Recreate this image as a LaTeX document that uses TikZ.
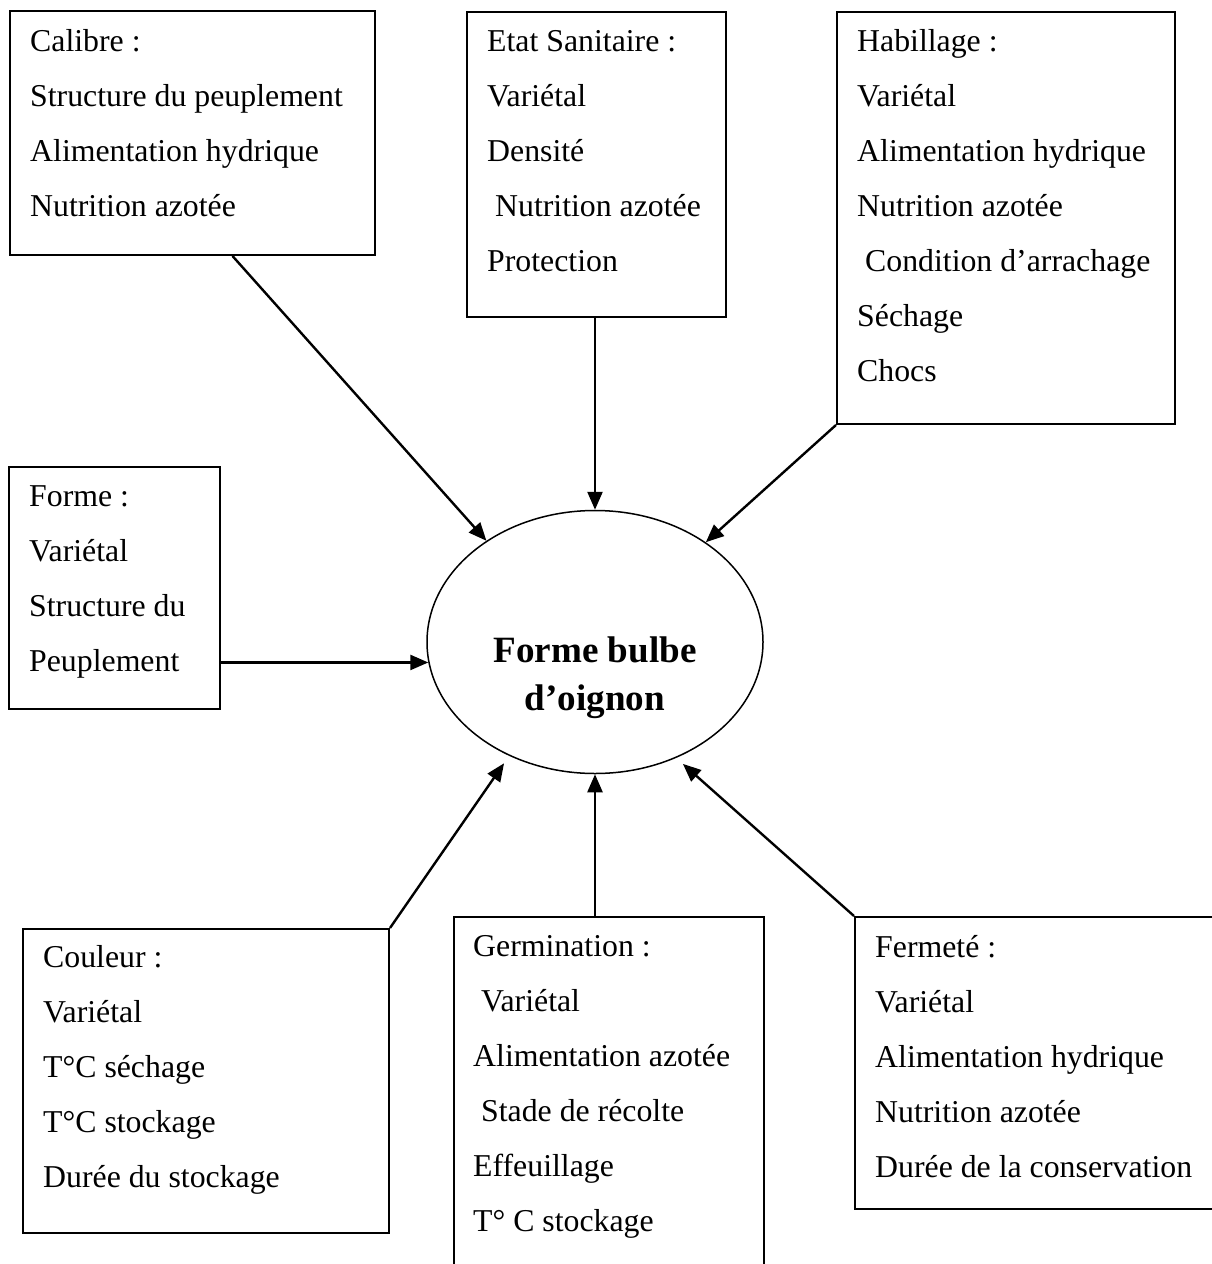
\documentclass[tikz,border=0pt]{standalone}
\usepackage{fontspec}
\setmainfont{Liberation Serif}
\usetikzlibrary{shapes.geometric,arrows.meta,calc}
\begin{document}
\begin{tikzpicture}[x=1pt,y=-1pt,
  box/.style={draw, line width=2pt, anchor=north west, inner sep=0pt},
  txt/.style={anchor=base west, inner sep=0pt, font=\fontsize{31.8}{38}\selectfont},
  ttl/.style={anchor=base, inner sep=0pt, font=\fontsize{37.1}{44}\selectfont\bfseries},
  arr/.style={line width=2.4pt, -{Triangle[length=18pt,width=15pt]}}]
\useasboundingbox (0,0) rectangle (1211,1264);

% boxes
\node[box, minimum width=365pt, minimum height=244pt] (calibre) at (9,10) {};
\node[box, minimum width=259pt, minimum height=305pt] (etat) at (466,11) {};
\node[box, minimum width=338pt, minimum height=412pt] (habil) at (836,11) {};
\node[box, minimum width=211pt, minimum height=242pt] (forme) at (8,466) {};
\node[box, minimum width=366pt, minimum height=304pt] (couleur) at (22,928) {};
\node[box, minimum width=310pt, minimum height=360pt] (germ) at (453,916) {};
\node[box, minimum width=362pt, minimum height=292pt] (ferm) at (854,916) {};

% central ellipse
\node[draw, ellipse, line width=1.5pt, minimum width=336pt, minimum height=263pt, inner sep=0pt] (bulb) at (595,642) {};
\node[ttl] (t1) at (595,662) {Forme bulbe};
\node[ttl] (t2) at (595,710) {d’oignon};

% Calibre
\node[txt] (cal1) at (30,51) {Calibre :};
\node[txt] (cal2) at (30,106) {Structure du peuplement};
\node[txt] (cal3) at (30,161) {Alimentation hydrique};
\node[txt] (cal4) at (30,216) {Nutrition azotée};

% Etat sanitaire
\node[txt] (eta1) at (487,51) {Etat Sanitaire :};
\node[txt] (eta2) at (487,106) {Variétal};
\node[txt] (eta3) at (487,161) {Densité};
\node[txt] (eta4) at (487,216) {\hspace{0.25em}Nutrition azotée};
\node[txt] (eta5) at (487,271) {Protection};

% Habillage
\node[txt] (hab1) at (857,51) {Habillage :};
\node[txt] (hab2) at (857,106) {Variétal};
\node[txt] (hab3) at (857,161) {Alimentation hydrique};
\node[txt] (hab4) at (857,216) {Nutrition azotée};
\node[txt] (hab5) at (857,271) {\hspace{0.25em}Condition d’arrachage};
\node[txt] (hab6) at (857,326) {Séchage};
\node[txt] (hab7) at (857,381) {Chocs};

% Forme
\node[txt] (for1) at (29,506) {Forme :};
\node[txt] (for2) at (29,561) {Variétal};
\node[txt] (for3) at (29,616) {Structure du};
\node[txt] (for4) at (29,671) {Peuplement};

% Couleur
\node[txt] (cou1) at (43,967) {Couleur :};
\node[txt] (cou2) at (43,1022) {Variétal};
\node[txt] (cou3) at (43,1077) {T°C séchage};
\node[txt] (cou4) at (43,1132) {T°C stockage};
\node[txt] (cou5) at (43,1187) {Durée du stockage};

% Germination
\node[txt] (ger1) at (473,956) {Germination :};
\node[txt] (ger2) at (473,1011) {\hspace{0.25em}Variétal};
\node[txt] (ger3) at (473,1066) {Alimentation azotée};
\node[txt] (ger4) at (473,1121) {\hspace{0.25em}Stade de récolte};
\node[txt] (ger5) at (473,1176) {Effeuillage};
\node[txt] (ger6) at (473,1231) {T° C stockage};

% Fermete
\node[txt] (fer1) at (875,957) {Fermeté :};
\node[txt] (fer2) at (875,1012) {Variétal};
\node[txt] (fer3) at (875,1067) {Alimentation hydrique};
\node[txt] (fer4) at (875,1122) {Nutrition azotée};
\node[txt] (fer5) at (875,1177) {Durée de la conservation};

% connectors
\draw[arr] ($(calibre.south)+(40,0)$) -- (bulb.137);
\draw[arr] (etat.south -| bulb.north) -- (bulb.north);
\draw[arr] (habil.south west) -- (bulb.42);
\draw[arr] (forme.east |- bulb.187) -- (bulb.187);
\draw[arr, shorten >=9pt] (couleur.north east) -- (bulb.233);
\draw[arr] (germ.north -| bulb.south) -- (bulb.south);
\draw[arr, shorten >=9pt] (ferm.north west) -- (bulb.305);
\end{tikzpicture}
\end{document}
